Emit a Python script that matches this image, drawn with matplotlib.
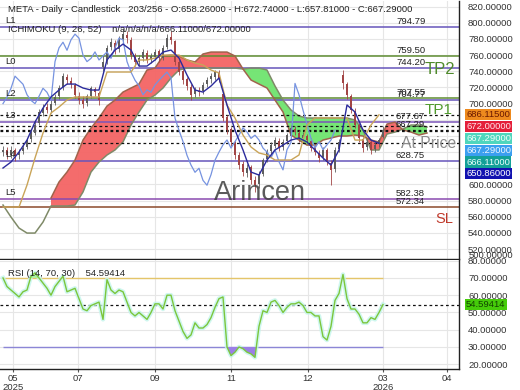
import matplotlib
matplotlib.use('Agg')
import matplotlib.pyplot as plt
import matplotlib.transforms as mtransforms
from matplotlib.ticker import FormatStrFormatter
import numpy as np

plt.rcParams['font.family'] = ['Liberation Sans', 'DejaVu Sans']

# ---------------- data ----------------
opens = [640, 643, 637, 642, 636, 641, 646, 656, 664, 676,
         689, 696, 692, 701, 709, 720, 733, 728, 723, 710,
         705, 701, 710, 718, 713, 745, 753, 770, 775, 767,
         780, 785, 779, 759, 751, 757, 763, 755, 758, 765,
         757, 770, 782, 777, 751, 740, 730, 721, 712, 716,
         715, 724, 730, 733, 738, 712, 683, 668, 652, 637,
         625, 614, 621, 606, 600, 613, 631, 641, 648, 654,
         646, 654, 660, 669, 664, 658, 660, 654, 646, 639,
         634, 642, 627, 619, 644, 736, 724, 710, 691, 673,
         656, 646, 652, 644, 650, 658.26]
highs = [648, 646, 647, 645, 644, 650, 658, 668, 678, 693,
         700, 701, 704, 712, 723, 738, 737, 733, 726, 714,
         709, 712, 722, 721, 716, 760, 772, 781, 779, 784,
         792, 790, 782, 763, 760, 768, 766, 763, 768, 768,
         772, 786, 790, 779, 754, 743, 733, 724, 721, 720,
         727, 733, 738, 742, 741, 716, 686, 671, 655, 640,
         629, 625, 624, 610, 616, 633, 644, 652, 659, 657,
         656, 664, 673, 672, 667, 665, 663, 657, 649, 642,
         646, 645, 630, 646, 656, 742, 727, 712, 694, 676,
         659, 656, 655, 652, 658, 672.74]
lows = [635, 632, 633, 629, 631, 638, 644, 652, 661, 673,
        685, 688, 689, 698, 706, 717, 724, 719, 707, 699,
        694, 697, 707, 709, 698, 740, 749, 766, 761, 764,
        776, 775, 755, 746, 746, 753, 750, 750, 754, 752,
        754, 767, 774, 748, 735, 724, 717, 705, 708, 709,
        712, 720, 726, 729, 727, 678, 662, 648, 632, 619,
        610, 609, 600, 591, 596, 610, 628, 637, 645, 641,
        642, 650, 657, 661, 653, 655, 651, 641, 636, 628,
        630, 624, 599, 615, 640, 718, 706, 688, 670, 652,
        640, 642, 638, 640, 646, 657.81]
closes = [643, 636, 643, 635, 640, 645, 655, 665, 674, 690,
          695, 692, 700, 708, 719, 734, 729, 724, 711, 704,
          700, 709, 719, 714, 704, 752, 769, 776, 766, 779,
          786, 781, 760, 752, 756, 764, 754, 759, 764, 756,
          769, 781, 779, 752, 739, 729, 722, 711, 717, 714,
          723, 729, 734, 739, 732, 682, 667, 653, 636, 624,
          615, 620, 605, 599, 612, 630, 640, 649, 655, 645,
          653, 661, 670, 665, 657, 661, 655, 645, 640, 633,
          643, 628, 618, 643, 652, 725, 711, 692, 674, 657,
          645, 653, 643, 649, 655, 667.29]

# Ichimoku lines, one value every 2 bars
tenkan = [620.3, 627.7, 640.1, 654.9, 677.2, 694.5, 708.2, 716.8, 724.2, 724.2,
          719.3, 716.8, 716.8, 754.0, 766.3, 773.7, 766.3, 746.5, 746.5, 754.0,
          763.8, 766.3, 756.4, 735.4, 716.8, 714.3, 721.8, 731.7, 698.3, 667.3,
          642.6, 615.3, 611.6, 630.2, 642.6, 648.7, 654.9, 657.4, 652.5, 642.6,
          632.7, 624.0, 642.6, 698.3, 689.6, 667.3, 654.9, 650.86]
kijun = [572, 572, 572, 599.2, 632.7, 663.6, 688.4, 695.8, 704.4, 708.2,
         708.2, 708.2, 708.2, 739.1, 739.1, 739.1, 739.1, 754.0, 754.0, 756.4,
         760.1, 760.1, 760.1, 754.0, 750.2, 747.8, 741.6, 737.9, 698.3, 682.2,
         661.1, 646.3, 638.9, 636.4, 630.2, 630.2, 630.2, 636.4, 673.5, 682.2,
         682.2, 682.2, 682.2, 682.2, 654.9, 654.9, 673.5, 686.115]
span_a = [574.5, 559.6, 546.0, 539.8, 539.8, 553.4, 573.3, 573.3, 573.3, 574.5,
          590.6, 615.3, 627.7, 636.4, 642.6, 652.5, 673.5, 689.6, 704.4, 710.6,
          719.3, 731.7, 741.6, 744.0, 744.0, 744.0, 744.0, 744.0, 744.0, 744.0,
          742.8, 744.0, 744.0, 741.6, 721.8, 704.4, 692.1, 684.6, 682.2, 682.2,
          682.2, 682.2, 682.2, 682.2, 679.7, 667.3, 642.6, 642.6, 662.4, 664.8,
          668.6, 673.5, 673.5, 671.0]
span_b = [np.nan] * 6 + [
          583.2, 603.0, 615.3, 630.2, 654.9, 669.8, 682.2, 697.0, 704.4, 714.3,
          719.3, 724.2, 741.6, 744.0, 758.9, 760.1, 758.9, 754.0, 751.5, 761.4,
          763.8, 763.8, 763.8, 758.9, 742.8, 729.2, 724.2, 719.3, 704.4, 689.6,
          661.1, 654.9, 648.7, 648.7, 654.9, 657.4, 659.9, 659.9, 661.1, 659.9,
          654.9, 652.5, 674.7, 677.2, 667.3, 664.8, 661.1, 663.6]
chikou_shift = 12

rsi = [70, 65, 63, 61, 59, 62, 63, 71, 73, 70,
       67, 64, 60, 65, 68, 71, 62, 63, 64, 58,
       52, 51, 54, 55, 56, 46, 69, 63, 61, 63,
       62, 56, 50, 48, 50, 48, 46, 50, 55, 55,
       52, 60, 60, 51, 45, 39, 35, 37, 44, 41,
       41, 43, 47, 53, 58, 59, 30, 25, 27, 30,
       29, 27, 26, 24, 42, 51, 50, 56, 57, 54,
       50, 53, 55, 55, 56, 54, 50, 50, 48, 48,
       36, 34, 42, 57, 61, 72, 58, 52, 52, 49,
       44, 44, 47, 46, 50, 54.59414]

level_values = [794.79, 759.50, 744.20, 707.55, 704.77, 677.67, 628.75, 582.38, 572.34]
level_colors = ['#6655bb', '#5e8c31', '#6655bb', '#5e8c31', '#6655bb',
                '#7a55b8', '#6655bb', '#8a4ab0', '#8b4a2b']
level_names = {794.79: 'L1', 744.20: 'L0', 704.77: 'L2', 677.67: 'L3',
               628.75: 'L4', 582.38: 'L5'}
dashed_levels = [686.115, 672.0, 667.29, 666.11, 650.86]

tag_values = [686.115, 672.0, 667.29, 667.29, 666.11, 650.86]
tag_bg = ['#ee8a1e', '#e41f3a', '#4fd6bd', '#3b9ff0', '#13a098', '#1212b0']
tag_fg = ['#6a1800', '#ffe6ea', '#f2fffb', '#eef6ff', '#eafffb', '#ffffff']

price_ticks = list(range(520, 821, 20))
rsi_ticks = list(range(20, 81, 10))
x_tick_pos = [2.5, 18.75, 38, 57, 76.25, 95, 111]
x_tick_labels = ['05\n2025', '07', '09', '11', '12', '03\n2026', '04']

# ---------------- figure ----------------
fig = plt.figure(figsize=(5.2, 3.9), dpi=100)
ax = fig.add_axes([0, 131 / 390, 459 / 520, 258 / 390])
ax2 = fig.add_axes([0, 21 / 390, 459 / 520, 109 / 390])
FS = 6.8

o = np.array(opens); h = np.array(highs); l = np.array(lows); c = np.array(closes)
idx = np.arange(len(c))
up = c >= o
ccol = np.where(up, '#5e5e5e', '#a24545')

# cloud
a = np.array(span_a, dtype=float); b = np.array(span_b, dtype=float)
xs = np.arange(len(a)) * 2
ax.fill_between(xs, a, b, where=a >= b, interpolate=True, color='#6fe46f', alpha=0.95, lw=0, zorder=1.2)
ax.fill_between(xs, a, b, where=a < b, interpolate=True, color='#f46464', alpha=0.95, lw=0, zorder=1.2)
ax.plot(xs, a, color='#7f8a68', lw=1.1, zorder=1.6)
ax.plot(xs, b, color='#a0644c', lw=1.1, zorder=1.6)

# levels
for v, col in zip(level_values, level_colors):
    ax.axhline(v, color=col, lw=1.1, zorder=1.5)
for v in dashed_levels:
    ax.axhline(v, color='#111111', lw=0.9, ls=(0, (2.2, 2.2)), zorder=1.7)

# candles
ax.vlines(idx, l, h, colors=ccol, lw=0.6, zorder=3)
ax.bar(idx, np.maximum(np.abs(c - o), 0.6), bottom=np.minimum(o, c), width=0.5,
       color=ccol, lw=0, zorder=3)

# ichimoku lines
ax.plot(idx[chikou_shift:] - chikou_shift, c[chikou_shift:], color='#7693e0', lw=0.9, zorder=3.5)
xl = np.arange(len(kijun)) * 2
ax.plot(xl, kijun, color='#c9a458', lw=1.0, zorder=3.6)
ax.plot(xl, tenkan, color='#2b2b9c', lw=1.0, zorder=3.7)

ax.set_xlim(-0.75, 114)
ax.set_ylim(507.7, 827)
ax.yaxis.tick_right()
ax.set_xticks(x_tick_pos)
ax.tick_params(axis='x', labelbottom=False, length=0)
ax.grid(True, color='#e6e6e6', lw=0.8)
ax.set_axisbelow(True)
for s in ['left', 'top']:
    ax.spines[s].set_visible(False)
for s in ['right', 'bottom']:
    ax.spines[s].set_color('#222222'); ax.spines[s].set_linewidth(1.0)

# level texts
for v in level_values:
    if v in level_names:
        ax.annotate(level_names[v], (0.5, v), xytext=(0, 1.5), textcoords='offset points',
                    va='bottom', ha='left', fontsize=FS, color='#222222', zorder=5)
    ax.annotate(f'{v:.2f}', (98.25, v), xytext=(0, 0.5), textcoords='offset points',
                va='bottom', ha='left', fontsize=FS, color='#222222', zorder=5)
ax.annotate('667.29', (98.25, 667.29), xytext=(0, 0.5), textcoords='offset points',
            va='bottom', ha='left', fontsize=FS, color='#222222', zorder=5)
ax.annotate('TP2', (105.5, 744.20), xytext=(0, -1), textcoords='offset points',
            va='center', ha='left', fontsize=12, color='#4f8a2c', zorder=5)
ax.annotate('TP1', (105.5, 704.77), xytext=(0, -2.5), textcoords='offset points',
            va='top', ha='left', fontsize=11, color='#4f9a2c', zorder=5)
ax.annotate('At Price', (99.5, 650.86), xytext=(0, 0), textcoords='offset points',
            va='center', ha='left', fontsize=11.3, color='#8c8c8c', zorder=5)
ax.annotate('SL', (108, 572.34), xytext=(0, -3.5), textcoords='offset points',
            va='top', ha='left', fontsize=10.5, color='#c0392b', zorder=5)
ax.text(0.566, 0.255, 'Arincen', transform=ax.transAxes, fontsize=19.5, color='#3e3e3e',
        alpha=0.85, ha='center', va='center', zorder=6)
ax.text(1.02, 0.012, '500.00000', transform=ax.transAxes, fontsize=FS, color='#333333',
        ha='left', va='center', clip_on=False)

# price tags on the right (stacked so they do not overlap)
prev = None
tag_disp = []
for val, fc, tc in zip(tag_values, tag_bg, tag_fg):
    yd = ax.transData.transform((0, val))[1]
    if prev is not None and yd > prev - 11.8:
        yd = prev - 11.8
    prev = yd
    tag_disp.append(yd)
    ya = ax.transAxes.inverted().transform((0, yd))[1]
    ax.text(1.0153, ya, f'{val:.5f}', transform=ax.transAxes, fontsize=FS, color=tc,
            ha='left', va='center', clip_on=False, zorder=10,
            bbox=dict(boxstyle='square,pad=0.12', fc=fc, ec='none'))

# price axis labels: those hidden behind the tags are left blank
ax.set_yticks(price_ticks)
labels = []
for t in price_ticks:
    td = ax.transData.transform((0, t))[1]
    hidden = any(abs(td - yd) < 8 for yd in tag_disp)
    labels.append('' if hidden else f'{t:.5f}')
ax.set_yticklabels(labels)
ax.tick_params(axis='y', labelsize=FS, length=0, pad=6.5, labelcolor='#333333')

# ---------------- RSI ----------------
r = np.array(rsi, dtype=float)
ax2.plot(idx, r, color='#c4f5ec', lw=3.2, alpha=0.8, zorder=2)
ax2.fill_between(idx, r, 30, where=r < 30, interpolate=True, color='#9b7fe6', lw=0, zorder=2.2)
ax2.fill_between(idx, r, 70, where=r > 70, interpolate=True, color='#a8f0a0', lw=0, zorder=2.2)
ax2.hlines(70, idx[0], idx[-1], color='#e4c56a', lw=1.0, zorder=1.8)
ax2.hlines(30, idx[0], idx[-1], color='#8c86d6', lw=1.0, zorder=1.8)
ax2.axhline(r[-1], color='#111111', lw=0.9, ls=(0, (2.2, 2.2)), zorder=1.9)
ax2.plot(idx, r, color='#7cc63c', lw=1.0, zorder=3)

ax2.set_xlim(-0.75, 114)
ax2.set_ylim(17.25, 80.4)
ax2.set_yticks(rsi_ticks)
ax2.yaxis.tick_right()
ax2.yaxis.set_major_formatter(FormatStrFormatter('%.5f'))
ax2.tick_params(axis='y', labelsize=FS, length=0, pad=6.5, labelcolor='#333333')
ax2.set_xticks(x_tick_pos)
ax2.set_xticklabels(x_tick_labels, fontsize=FS, linespacing=0.95)
ax2.tick_params(axis='x', length=2, pad=1.5, labelcolor='#333333', color='#555555')
ax2.grid(True, color='#e6e6e6', lw=0.8)
ax2.set_axisbelow(True)
for s in ['left', 'top']:
    ax2.spines[s].set_visible(False)
for s in ['right', 'bottom']:
    ax2.spines[s].set_color('#222222'); ax2.spines[s].set_linewidth(1.0)
ax2.text(1.0153, r[-1], f'{r[-1]:.5f}',
         transform=mtransforms.blended_transform_factory(ax2.transAxes, ax2.transData),
         fontsize=FS, color='#124400', ha='left', va='center', clip_on=False, zorder=10,
         bbox=dict(boxstyle='square,pad=0.12', fc='#45cc0a', ec='none'))

# ---------------- headers ----------------
fig.text(8 / 520, 1 - 9 / 390,
         'META - Daily - Candlestick   203/256 - O:658.26000 - H:672.74000 - L:657.81000 - C:667.29000',
         fontsize=FS, color='#222222', va='center', ha='left')
fig.text(8 / 520, 1 - 29 / 390, 'ICHIMOKU (9, 26, 52)    n/a/n/a/n/a/666.11000/672.00000',
         fontsize=FS, color='#222222', va='center', ha='left')
fig.text(8 / 520, 1 - 273 / 390, 'RSI (14, 70, 30)    54.59414',
         fontsize=FS, color='#222222', va='center', ha='left')

fig.savefig('out.png', dpi=100)
